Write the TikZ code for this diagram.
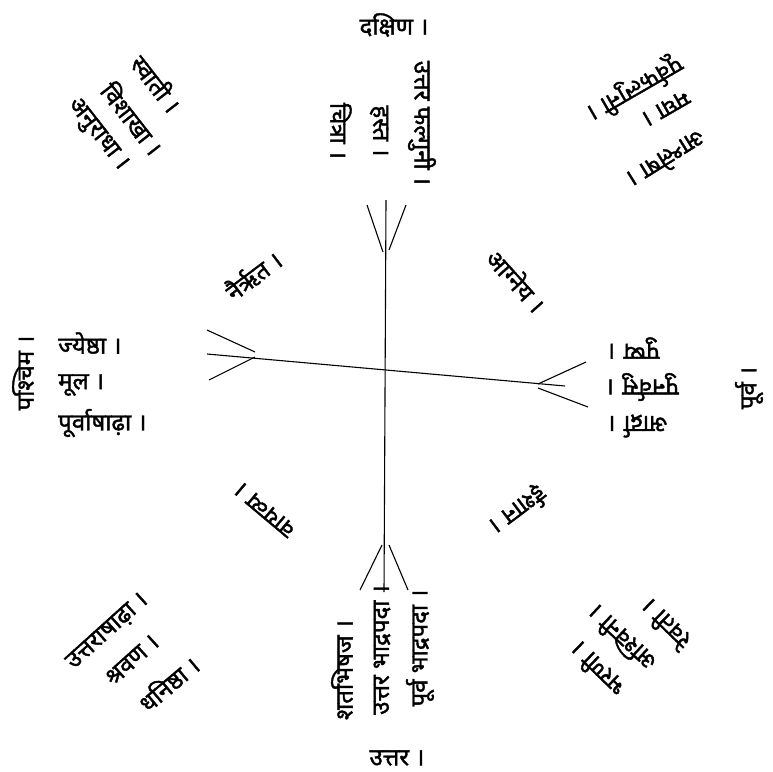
\documentclass[tikz,border=0pt]{standalone}
\usepackage{fontspec}
\newfontfamily\deva[Script=Devanagari, FakeBold=1.6]{Noto Sans}
\begin{document}
\begin{tikzpicture}[x=1pt,y=-1pt,
    lbl/.style={font=\deva\fontsize{24}{28}\selectfont, inner sep=0pt},
    arm/.style={line width=1.1pt}]
  \useasboundingbox (0,0) rectangle (773,771);
  % cross
  \coordinate (top) at (386,200);
  \coordinate (bot) at (384,592);
  \coordinate (lft) at (207,354);
  \coordinate (rgt) at (565,386);
  \coordinate (ta) at (383,252);  \coordinate (tb) at (389,250);
  \coordinate (ba) at (382,545);  \coordinate (bb) at (389,545);
  \coordinate (la) at (255,352);  \coordinate (lb) at (255,357);
  \coordinate (ra) at (538,384);  \coordinate (rb) at (538,388);
  \draw[arm] (top) -- (bot);
  \draw[arm] (lft) -- (rgt);
  \draw[arm] (ta) -- (367,205);  \draw[arm] (tb) -- (406,205);
  \draw[arm] (ba) -- (360,590);  \draw[arm] (bb) -- (408,590);
  \draw[arm] (la) -- (207,330);  \draw[arm] (lb) -- (209,380);
  \draw[arm] (ra) -- (586,362);  \draw[arm] (rb) -- (588,407);
  % south (top)
  \node[lbl] (dakshina) at (394,25) {दक्षिण ।};
  \node[lbl, rotate=-90] (chitra) at (341,131) {चित्रा ।};
  \node[lbl, rotate=-90] (hasta) at (379,131) {हस्त ।};
  \node[lbl, rotate=-90] (uphalguni) at (422,123) {उत्तर फल्गुनी ।};
  % south-west
  \node[lbl, rotate=-52] (svati) at (157,83) {स्वाती ।};
  \node[lbl, rotate=-52] (vishakha) at (133,118) {विशाखा ।};
  \node[lbl, rotate=-52] (anuradha) at (97,135) {अनुराधा ।};
  \node[lbl, rotate=37] (nairrta) at (253,275) {नैर्ऋत ।};
  % south-east
  \node[lbl, rotate=-48] (agneya) at (517,280) {आग्नेय ।};
  \node[lbl, rotate=210] (pphalguni) at (635,88) {पूर्वफल्गुनी ।};
  \node[lbl, rotate=210] (magha) at (666,108) {मघा ।};
  \node[lbl, rotate=212] (ashlesha) at (667,160) {आश्लेषा ।};
  % west
  \node[lbl, anchor=west] (jyeshtha) at (58,343) {ज्येष्ठा ।};
  \node[lbl, anchor=west] (mula) at (58,385) {मूल ।};
  \node[lbl, anchor=west] (pashadha) at (58,423) {पूर्वाषाढ़ा ।};
  \node[lbl, rotate=90] (pashchima) at (23,373) {पश्चिम ।};
  % east
  \node[lbl, rotate=180] (pushya) at (634,348) {पुष्य ।};
  \node[lbl, rotate=180] (punarvasu) at (643,387) {पुनर्वसु ।};
  \node[lbl, rotate=180] (ardra) at (638,426) {आर्द्रा ।};
  \node[lbl, rotate=90] (purva) at (749,388) {पूर्व ।};
  % north-west
  \node[lbl, rotate=140] (vayavya) at (265,510) {वायव्य ।};
  \node[lbl, rotate=42] (uashadha) at (108,632) {उत्तराषाढ़ा ।};
  \node[lbl, rotate=42] (shravana) at (132,660) {श्रवण ।};
  \node[lbl, rotate=40] (dhanishtha) at (168,683) {धनिष्ठा ।};
  % north-east
  \node[lbl, rotate=217] (ishana) at (518,510) {ईशान ।};
  \node[lbl, rotate=136] (revati) at (665,625) {रेवती ।};
  \node[lbl, rotate=137] (ashvini) at (621,639) {अश्विनी ।};
  \node[lbl, rotate=136] (bharani) at (597,670) {भरणी ।};
  % north (bottom)
  \node[lbl, rotate=90] (shatabhishaj) at (342,670) {शतभिषज ।};
  \node[lbl, rotate=90] (ubhadrapada) at (382,650) {उत्तर भाद्रपदा ।};
  \node[lbl, rotate=90] (pbhadrapada) at (420,648) {पूर्व भाद्रपदा ।};
  \node[lbl] (uttara) at (397,758) {उत्तर ।};
\end{tikzpicture}
\end{document}
